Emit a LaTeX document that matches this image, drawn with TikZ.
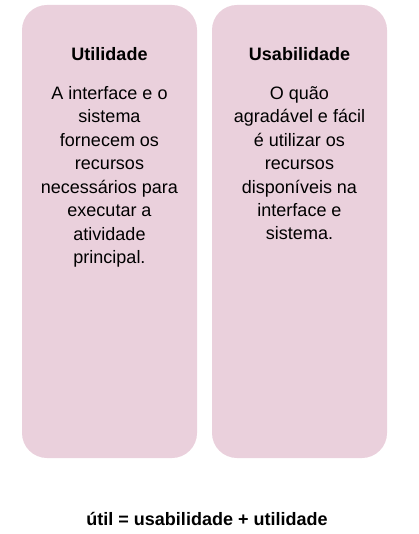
\documentclass[tikz,border=0pt]{standalone}
\usepackage{fontspec}
\setmainfont{Liberation Sans}
\definecolor{cardpink}{HTML}{EAD0DC}
\tikzset{
    card/.style   = {fill=cardpink, draw=none, rounded corners=18.75pt, inner sep=0pt,
                     minimum width=131.25pt, minimum height=339.75pt},
    cardtitle/.style = {font=\bfseries\fontsize{13.5}{16}\selectfont, inner sep=0pt},
    cardtext/.style  = {font=\fontsize{13.5}{17.6}\selectfont, align=center, inner sep=0pt, anchor=north},
}
\begin{document}
\begin{tikzpicture}[x=0.75pt, y=-0.75pt]
    \useasboundingbox (0,0) rectangle (418,534);

    % cards
    \node[card] (utilcard) at (109.5,231.5) {};
    \node[card] (usabcard) at (299.5,231.5) {};

    % titles
    \node[cardtitle] (utiltitle) at (109.5,54) {Utilidade};
    \node[cardtitle] (usabtitle) at (299.5,54) {Usabilidade};

    % descriptions
    \node[cardtext] (utiltext) at (109.5,86) {A interface e o\\ sistema\\ fornecem os\\ recursos\\ necessários para\\ executar a\\ atividade\\ principal.};
    \node[cardtext] (usabtext) at (299.5,86) {O quão\\ agradável e fácil\\ é utilizar os\\ recursos\\ disponíveis na\\ interface e\\ sistema.};

    % formula
    \node[cardtitle, anchor=base] (formula) at (207,525) {útil = usabilidade + utilidade};
\end{tikzpicture}
\end{document}
